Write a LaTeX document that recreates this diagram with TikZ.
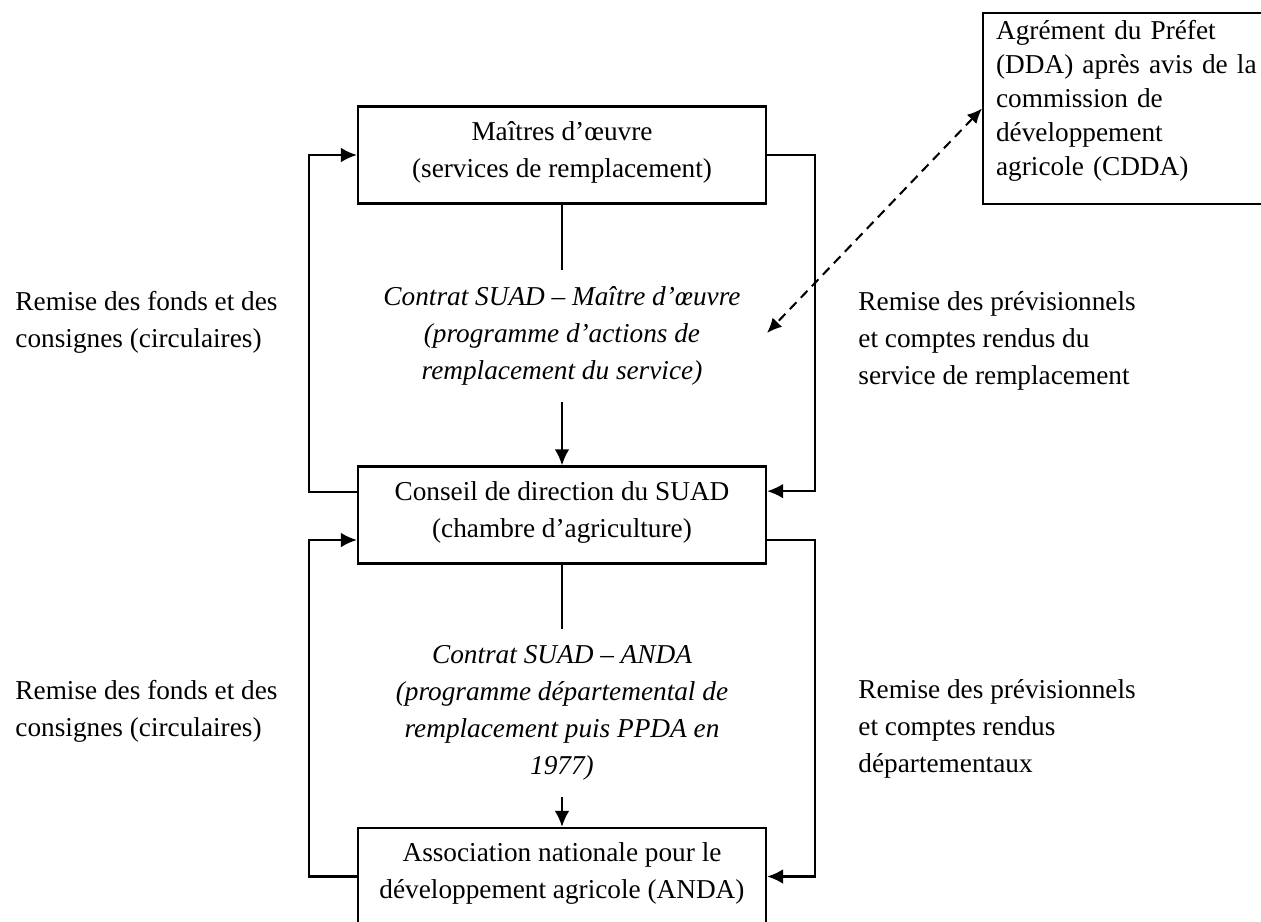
\documentclass[tikz,border=0pt]{standalone}
\usepackage{fontspec}
\setmainfont{Liberation Serif}
\usepackage{tikz}
\usetikzlibrary{arrows.meta}
\tikzstyle{diagram} = [x = 0.44pt, y = -0.44pt]
\tikzstyle{boxStyle} = [draw, line width=1pt, align=center, minimum width=179.5pt, minimum height=42.7pt, text depth=5pt, font=\fontsize{12pt}{16.3pt}\selectfont]
\tikzstyle{prefectBox} = [draw, line width=1pt, anchor=north west, align=left, text width=130pt, inner xsep=5.7pt, inner ysep=3pt, text depth=69.5pt, font=\fontsize{12pt}{15pt}\selectfont]
\tikzstyle{contractText} = [align=center, inner xsep=0pt, inner ysep=7pt, font=\fontsize{12pt}{16.3pt}\selectfont\itshape]
\tikzstyle{sideText} = [align=left, anchor=west, inner sep=0pt, font=\fontsize{12pt}{16.3pt}\selectfont]
\tikzstyle{flowLine} = [line width=0.9pt]
\tikzstyle{flowArrow} = [flowLine, -{Latex[length=7pt, width=6.4pt]}]
\tikzstyle{dashArrow} = [flowLine, dash pattern=on 4.2pt off 2.8pt, {Latex[length=6.5pt, width=5.8pt]}-{Latex[length=6.5pt, width=5.8pt]}]

\begin{document}
\begin{tikzpicture}[diagram]
  \path [use as bounding box, clip] (0,0) rectangle (1261,921);

  \node [boxStyle] (works) at (562,155) {Maîtres d’œuvre\\(services de remplacement)};
  \node [boxStyle] (board) at (562,515) {Conseil de direction du SUAD\\(chambre d’agriculture)};
  \node [boxStyle] (anda) at (562,876.5) {Association nationale pour le\\développement agricole (ANDA)};
  \node [prefectBox] (prefect) at (982,12) {Agrément du Préfet\\(DDA) après avis de la\\commission de\\développement\\agricole (CDDA)};

  \node [contractText] (contractWorks) at (562,336) {Contrat SUAD – Maître d’œuvre\\(programme d’actions de\\remplacement du service)};
  \node [contractText] (contractAnda) at (562,713) {Contrat SUAD – ANDA\\(programme départemental de\\remplacement puis PPDA en\\1977)};

  \node [sideText] (fundsTop) at (15,322) {Remise des fonds et des\\consignes (circulaires)};
  \node [sideText] (fundsBottom) at (15,711) {Remise des fonds et des\\consignes (circulaires)};
  \node [sideText] (reportsTop) at (858,341) {Remise des prévisionnels\\et comptes rendus du\\service de remplacement};
  \node [sideText] (reportsBottom) at (858,729) {Remise des prévisionnels\\et comptes rendus\\départementaux};

  \draw [flowLine] (works) -- (contractWorks);
  \draw [flowArrow] (contractWorks) -- (board);
  \draw [flowLine] (board) -- (contractAnda);
  \draw [flowArrow] (contractAnda) -- (anda);

  \draw [flowArrow] ([yshift=10pt]board.west) -- ++(-48,0) |- (works.west);
  \draw [flowArrow] (anda.west) -- ++(-48,0) |- ([yshift=-11pt]board.west);
  \draw [flowArrow] (works.east) -- ++(48,0) |- ([yshift=10.5pt]board.east);
  \draw [flowArrow] ([yshift=-11pt]board.east) -- ++(48,0) |- (anda.east);

  \coordinate (dashEnd) at (767,333);
  \draw [dashArrow] (prefect.west) -- (dashEnd);
\end{tikzpicture}
\end{document}
